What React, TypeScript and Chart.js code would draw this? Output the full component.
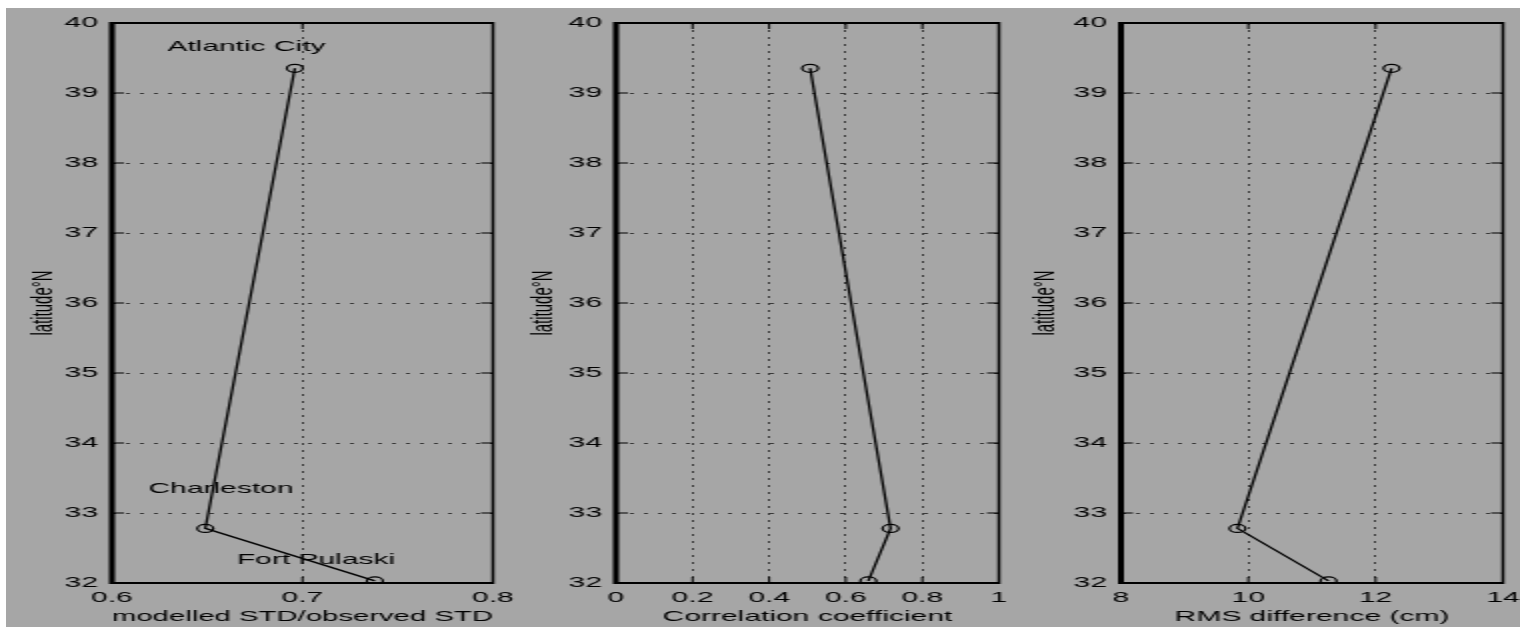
import React, { useEffect, useRef } from "react";
import { Chart, registerables } from "chart.js";

Chart.register(...registerables);

// ---- data ----
const stations = ["Atlantic City", "Charleston", "Fort Pulaski"];
const latitudes = [39.353, 32.78, 32.03];
const stdRatio = [0.696, 0.649, 0.738];
const correlation = [0.507, 0.717, 0.659];
const rmsDifference = [12.25, 9.83, 11.26];

const latTicks = [32, 33, 34, 35, 36, 37, 38, 39, 40];
const latTickLabels = ["32", "33", "34", "35", "36", "37", "38", "39", "40"];
const stdTicks = [0.6, 0.7, 0.8];
const stdTickLabels = ["0.6", "0.7", "0.8"];
const corrTicks = [0, 0.2, 0.4, 0.6, 0.8, 1];
const corrTickLabels = ["0", "0.2", "0.4", "0.6", "0.8", "1"];
const rmsTicks = [8, 10, 12, 14];
const rmsTickLabels = ["8", "10", "12", "14"];

// station name anchors (data units, panel 1)
const stationLabelX = [0.6706, 0.6572, 0.7071];
const stationLabelY = [39.657, 33.343, 32.33];

const FONT = '"Liberation Sans", Arial, Helvetica, sans-serif';
const STRETCH = 2; // horizontal stretch of the rendered figure
const H = 619;

type Panel = {
  values: number[];
  min: number;
  max: number;
  ticks: number[];
  tickLabels: string[];
  title: string;
  left: number; // display px in container
  width: number; // display px
  yWidth: number; // internal px
  padRight: number; // internal px
  yTitlePad: number;
  names: boolean;
};

const panels: Panel[] = [
  { values: stdRatio, min: 0.6, max: 0.8, ticks: stdTicks, tickLabels: stdTickLabels, title: "modelled STD/observed STD", left: 0, width: 520, yWidth: 53, padRight: 16.5, yTitlePad: 9.5, names: true },
  { values: correlation, min: 0, max: 1, ticks: corrTicks, tickLabels: corrTickLabels, title: "Correlation coefficient", left: 490, width: 530, yWidth: 60, padRight: 13.5, yTitlePad: 14.5, names: false },
  { values: rmsDifference, min: 8, max: 14, ticks: rmsTicks, tickLabels: rmsTickLabels, title: "RMS difference (cm)", left: 1000, width: 514, yWidth: 57.5, padRight: 8.5, yTitlePad: 10.5, names: false },
];

const framePlugin = {
  id: "frame",
  afterDatasetsDraw(chart: any) {
    const { ctx, chartArea } = chart;
    const { left, right, top, bottom } = chartArea;
    const x = chart.scales.x;
    const y = chart.scales.y;
    const tl = 6;
    ctx.save();
    ctx.strokeStyle = "#000";
    ctx.lineWidth = 1;
    ctx.beginPath();
    y.ticks.forEach((t: any) => {
      const py = y.getPixelForValue(t.value);
      ctx.moveTo(left, py);
      ctx.lineTo(left + tl, py);
      ctx.moveTo(right, py);
      ctx.lineTo(right - tl, py);
    });
    x.ticks.forEach((t: any) => {
      const px = x.getPixelForValue(t.value);
      ctx.moveTo(px, top);
      ctx.lineTo(px, top + tl);
      ctx.moveTo(px, bottom);
      ctx.lineTo(px, bottom - tl);
    });
    ctx.stroke();
    ctx.lineWidth = 2;
    ctx.beginPath();
    ctx.moveTo(left, top);
    ctx.lineTo(right, top);
    ctx.moveTo(left, bottom);
    ctx.lineTo(right, bottom);
    ctx.stroke();
    ctx.lineWidth = 1.5;
    ctx.beginPath();
    ctx.moveTo(right, top - 1);
    ctx.lineTo(right, bottom + 1);
    ctx.stroke();
    ctx.lineWidth = 3;
    ctx.beginPath();
    ctx.moveTo(left, top - 1);
    ctx.lineTo(left, bottom + 1);
    ctx.stroke();
    ctx.restore();
  },
};

const namesPlugin = {
  id: "names",
  afterDatasetsDraw(chart: any, _args: any, opts: any) {
    if (!opts || !opts.show) return;
    const { ctx } = chart;
    const x = chart.scales.x;
    const y = chart.scales.y;
    ctx.save();
    ctx.fillStyle = "#000";
    ctx.font = `15px ${FONT}`;
    ctx.textAlign = "center";
    ctx.textBaseline = "middle";
    stations.forEach((name, i) => {
      ctx.fillText(name, x.getPixelForValue(stationLabelX[i]), y.getPixelForValue(stationLabelY[i]));
    });
    ctx.restore();
  },
};

function PanelChart({ p }: { p: Panel }) {
  const ref = useRef<HTMLCanvasElement | null>(null);
  useEffect(() => {
    if (!ref.current) return;
    const chart = new Chart(ref.current, {
      type: "scatter",
      data: {
        datasets: [
          {
            data: p.values.map((v, i) => ({ x: v, y: latitudes[i] })),
            showLine: true,
            borderColor: "#000",
            borderWidth: 1.3,
            pointRadius: 4,
            pointBorderWidth: 1.2,
            pointBorderColor: "#000",
            pointBackgroundColor: "rgba(0,0,0,0)",
          } as any,
        ],
      },
      options: {
        responsive: false,
        animation: false,
        devicePixelRatio: 1,
        events: [],
        layout: { padding: { left: 0, right: p.padRight, top: 15, bottom: 0 } },
        plugins: {
          legend: { display: false },
          tooltip: { enabled: false },
          names: { show: p.names },
        } as any,
        scales: {
          x: {
            type: "linear",
            min: p.min,
            max: p.max,
            afterBuildTicks: (s: any) => {
              s.ticks = p.ticks.map((v) => ({ value: v }));
            },
            afterFit: (s: any) => {
              s.height = 44;
              s.paddingLeft = 0;
              s.paddingRight = 0;
            },
            grid: { display: true, drawTicks: false, color: "#3a3a3a", lineWidth: 1 },
            border: { display: false, dash: [2, 5] },
            ticks: {
              padding: 6,
              color: "#000",
              font: { family: FONT, size: 15 },
              maxRotation: 0,
              autoSkip: false,
              callback: (_v: any, i: number) => p.tickLabels[i],
            },
            title: {
              display: true,
              text: p.title,
              color: "#000",
              font: { family: FONT, size: 15 },
              padding: { top: 0, bottom: 1 },
            },
          },
          y: {
            type: "linear",
            min: 32,
            max: 40,
            afterBuildTicks: (s: any) => {
              s.ticks = latTicks.map((v) => ({ value: v }));
            },
            afterFit: (s: any) => {
              s.width = p.yWidth;
              s.paddingTop = 0;
              s.paddingBottom = 0;
            },
            grid: { display: true, drawTicks: false, color: "#3a3a3a", lineWidth: 1 },
            border: { display: false, dash: [2, 5] },
            ticks: {
              padding: 7,
              color: "#000",
              font: { family: FONT, size: 15 },
              autoSkip: false,
              callback: (_v: any, i: number) => latTickLabels[i],
            },
            title: {
              display: true,
              text: "latitude°N",
              color: "#000",
              font: { family: FONT, size: 15 },
              padding: { top: p.yTitlePad, bottom: 0 },
            },
          },
        },
      } as any,
      plugins: [framePlugin, namesPlugin],
    });
    return () => chart.destroy();
  }, [p]);
  return (
    <canvas
      ref={ref}
      width={Math.round(p.width / STRETCH)}
      height={H}
      style={{ position: "absolute", left: p.left, top: 0, width: `${p.width}px`, height: `${H}px` }}
    />
  );
}

export default function App() {
  return (
    <div
      style={{
        position: "fixed",
        left: 6,
        top: 8,
        width: 1514,
        height: H,
        background: "#a6a6a6",
        overflow: "hidden",
      }}
    >
      {panels.map((p, i) => (
        <PanelChart key={i} p={p} />
      ))}
    </div>
  );
}
